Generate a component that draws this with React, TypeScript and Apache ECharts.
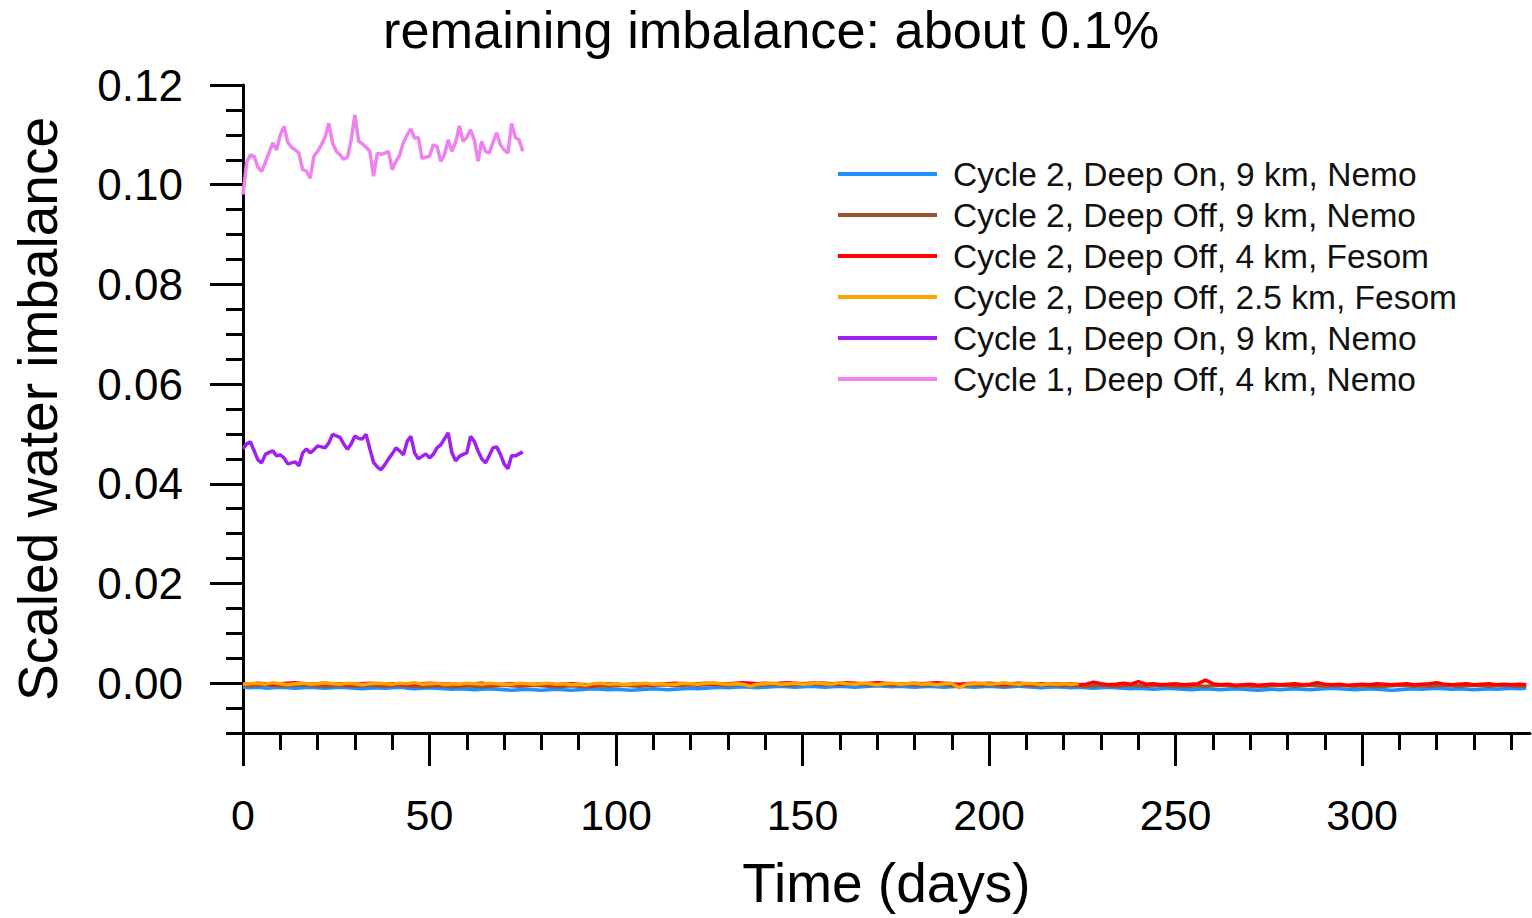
import React, { useEffect, useRef } from "react";
import * as echarts from "echarts";

const FONT = "'Liberation Sans', Arial, Helvetica, sans-serif";

const titleText = "remaining imbalance: about 0.1%";
const xAxisTitle = "Time (days)";
const yAxisTitle = "Scaled water imbalance";

const seriesNames = [
  "Cycle 2, Deep On, 9 km, Nemo",
  "Cycle 2, Deep Off, 9 km, Nemo",
  "Cycle 2, Deep Off, 4 km, Fesom",
  "Cycle 2, Deep Off, 2.5 km, Fesom",
  "Cycle 1, Deep On, 9 km, Nemo",
  "Cycle 1, Deep Off, 4 km, Nemo",
];
const seriesColors = ["#1E90FF", "#A0522D", "#FF0000", "#FFA500", "#A020F0", "#EE82EE"];

const xMajorTicks = [0, 50, 100, 150, 200, 250, 300];
const yMajorTicks = [0, 0.02, 0.04, 0.06, 0.08, 0.1, 0.12];

// Cycle 1 runs: one value per day, days 0..75
const cycle1DayStep = 1;
const cycle1DeepOff4km = [
  0.098, 0.1045, 0.106, 0.1057, 0.1035, 0.1027, 0.1045, 0.1065, 0.1084, 0.107,
  0.11, 0.1117, 0.1085, 0.1075, 0.107, 0.1063, 0.103, 0.1027, 0.1013, 0.1057,
  0.1067, 0.108, 0.1095, 0.1123, 0.1084, 0.1067, 0.106, 0.1051, 0.1055, 0.109,
  0.114, 0.1087, 0.1082, 0.1075, 0.1067, 0.1017, 0.1063, 0.1061, 0.1063, 0.1067,
  0.103, 0.1047, 0.106, 0.1084, 0.11, 0.1112, 0.1093, 0.1095, 0.1053, 0.1055,
  0.1057, 0.108, 0.1077, 0.1047, 0.106, 0.109, 0.1067, 0.1085, 0.1118, 0.1087,
  0.1095, 0.111, 0.109, 0.1047, 0.1087, 0.1067, 0.1063, 0.1085, 0.1104, 0.108,
  0.107, 0.1063, 0.1123, 0.1095, 0.109, 0.1067,
];
const cycle1DeepOn9km = [
  0.047, 0.048, 0.0484, 0.0466, 0.0448, 0.0442, 0.0459, 0.0463, 0.0466, 0.0456,
  0.0458, 0.0452, 0.044, 0.0442, 0.0444, 0.0436, 0.0462, 0.047, 0.0462, 0.0468,
  0.0476, 0.0474, 0.0472, 0.0482, 0.0499, 0.0496, 0.0493, 0.048, 0.0469, 0.048,
  0.0496, 0.0491, 0.049, 0.0499, 0.047, 0.0443, 0.0434, 0.0428, 0.0438, 0.045,
  0.046, 0.0472, 0.0466, 0.0458, 0.0485, 0.0495, 0.0462, 0.045, 0.0455, 0.046,
  0.0452, 0.0459, 0.0472, 0.0478, 0.049, 0.0502, 0.0462, 0.0446, 0.0455, 0.0459,
  0.0462, 0.0495, 0.0485, 0.0466, 0.045, 0.0442, 0.0456, 0.0472, 0.0474, 0.0459,
  0.044, 0.043, 0.0456, 0.0456, 0.046, 0.0464,
];

// Cycle 2 runs: one value every 2 days, in units of 1e-4
const cycle2DayStep = 2;
const cycle2Unit = 1e-4;
const cycle2DeepOn9km = [
  -8, -9, -8, -10, -9, -8, -9, -10, -9, -8,
  -9, -10, -9, -8, -9, -10, -11, -10, -9, -10,
  -9, -8, -10, -11, -10, -9, -10, -11, -12, -11,
  -12, -13, -12, -11, -12, -13, -14, -13, -12, -13,
  -14, -13, -12, -13, -14, -13, -12, -11, -12, -13,
  -12, -13, -14, -13, -12, -11, -12, -13, -12, -11,
  -10, -11, -10, -9, -8, -9, -8, -7, -8, -9,
  -8, -7, -6, -7, -8, -7, -6, -7, -8, -7,
  -6, -7, -8, -7, -6, -5, -6, -7, -6, -7,
  -8, -7, -6, -7, -8, -7, -6, -7, -8, -7,
  -6, -7, -8, -7, -6, -7, -8, -9, -8, -7,
  -8, -9, -8, -9, -10, -9, -8, -9, -10, -11,
  -10, -11, -12, -11, -10, -11, -12, -13, -12, -11,
  -12, -13, -12, -11, -12, -13, -14, -13, -12, -13,
  -12, -11, -12, -13, -12, -11, -10, -11, -12, -13,
  -12, -11, -12, -13, -14, -13, -12, -11, -12, -11,
  -10, -11, -12, -11, -12, -13, -12, -11, -12, -11,
  -10, -11, -10,
];
const cycle2DeepOff9km = [
  -4, -5, -4, -3, -4, -5, -5, -4, -3, -4,
  -5, -6, -5, -4, -5, -6, -5, -4, -5, -6,
  -5, -4, -5, -6, -7, -6, -5, -6, -7, -6,
  -5, -6, -7, -6, -5, -4, -5, -6, -5, -4,
  -5, -6, -7, -6, -5, -6, -7, -6, -5, -6,
  -5, -4, -5, -6, -5, -4, -3, -4, -5, -4,
  -3, -4, -3, -2, -3, -4, -3, -2, -3, -4,
  -3, -2, -3, -4, -3, -2, -1, -2, -3, -2,
  -3, -2, -1, -2, -3, -2, -3, -4, -3, -2,
  -3, -4, -3, -2, -3, -4, -5, -4, -3, -4,
  -3, -4, -5, -4, -3, -4, -5, -4, -3, -4,
  -5, -4, -5, -6, -5, -4, -5, -6, -5, -4,
  -5, -6, -5, -4, -5, -6, -7, -6, -5, -6,
  -5, -4, -5, -6, -5, -6, -7, -6, -5, -4,
  -5, -6, -5, -4, -5, -6, -5, -4, -5, -6,
  -5, -6, -7, -6, -5, -4, -5, -6, -5, -6,
  -5, -4, -5, -6, -5, -4, -5, -6, -5, -4,
  -5, -6, -5,
];
const cycle2DeepOff4km = [
  -1, -2, 0, -1, -2, -1, 0, 1, -1, -2,
  -1, 0, -2, -1, -3, -2, -1, 0, -1, -2,
  -1, -2, -3, -2, -1, 0, -1, -2, -1, -3,
  -2, -1, 0, -2, -3, -2, -1, -2, -3, -2,
  -1, -2, -3, -2, -1, -2, -3, -4, -2, -1,
  -2, -3, -2, -1, -2, -3, -2, -1, 0, -1,
  -2, -1, 0, -1, -2, -1, 0, 1, 0, -1,
  0, -1, 0, 1, 0, -1, 0, 1, 0, -1,
  0, 1, 0, -1, 0, 1, 0, -1, -2, -1,
  0, -1, 0, 1, 0, -1, -2, -1, 0, -1,
  0, -1, -2, -1, 0, -1, -2, -1, -2, -1,
  -2, -1, -3, -2, 2, -1, -3, -2, 0, -2,
  3, -2, -1, -3, -2, -1, -3, -2, -1, 6,
  -1, -3, -2, -4, -3, -2, -4, -3, -2, -3,
  -2, -1, -3, -2, 1, -2, -3, -2, -4, -3,
  -2, -3, -1, -2, -3, -2, -1, -3, -2, -1,
  1, -2, -3, -2, -1, -3, -2, -1, -3, -2,
  -3, -2, -3,
];
const cycle2DeepOff2p5km = [
  -2, -1, 0, -2, 1, -1, -3, -1, 0, -2,
  -1, 1, -1, -2, 0, -1, -3, -1, 0, -1,
  -2, 0, -1, 1, -2, -1, 0, -3, -1, -2,
  0, -1, -2, 0, -1, -3, -2, 0, -1, -2,
  -1, 0, -2, -1, -3, -2, -4, -1, 0, -2,
  -1, -3, -2, -1, 0, -2, -1, -3, -2, 0,
  -1, -2, 0, 1, -1, -2, -1, -2, -6, -2,
  -1, 0, -2, -1, 0, -2, -1, 1, -1, -2,
  1, -1, -2, 0, -1, -3, -1, 0, -2, -1,
  0, -2, -1, -3, -1, 0, -9, -2, -1, 0,
  -2, -1, 1, -1, -2, 0, -1, -3, -1, -2,
  -1, -2, -1,
];

const toPairs = (vals: number[], step: number, unit: number) =>
  vals.map((v, i) => [i * step, +(v * unit).toFixed(6)]);

const seriesValues = [
  toPairs(cycle2DeepOn9km, cycle2DayStep, cycle2Unit),
  toPairs(cycle2DeepOff9km, cycle2DayStep, cycle2Unit),
  toPairs(cycle2DeepOff4km, cycle2DayStep, cycle2Unit),
  toPairs(cycle2DeepOff2p5km, cycle2DayStep, cycle2Unit),
  toPairs(cycle1DeepOn9km, cycle1DayStep, 1),
  toPairs(cycle1DeepOff4km, cycle1DayStep, 1),
];

const X_MIN = 0;
const X_MAX = 345;
const Y_MIN = -0.01;
const Y_MAX = 0.12;

export default function App() {
  const ref = useRef<HTMLDivElement>(null);

  useEffect(() => {
    if (!ref.current) return;
    const chart = echarts.init(ref.current, undefined, { renderer: "svg" });

    const xMinor: number[] = [];
    for (let v = 0; v <= 340; v += 10) xMinor.push(v);
    const yMinor: number[] = [];
    for (let i = 0; i <= 26; i++) yMinor.push(+(Y_MIN + i * 0.005).toFixed(3));

    const axisLine = { show: true, onZero: false, lineStyle: { color: "#000", width: 3 } };

    chart.setOption({
      animation: false,
      backgroundColor: "#fff",
      title: {
        text: titleText,
        left: 383,
        top: 4,
        padding: 0,
        textStyle: { fontFamily: FONT, fontSize: 52.3, fontWeight: "normal", color: "#000" },
      },
      legend: {
        orient: "vertical",
        left: 838,
        top: 157,
        padding: 0,
        itemWidth: 99,
        itemHeight: 4,
        itemGap: 7,
        icon: "rect",
        selectedMode: false,
        data: seriesNames,
        textStyle: {
          fontFamily: FONT,
          fontSize: 33.5,
          lineHeight: 33,
          color: "#111",
          padding: [0, 0, 0, 11],
        },
      },
      grid: { left: 243, top: 85, right: 2, bottom: 185, containLabel: false },
      xAxis: [
        {
          type: "value",
          min: X_MIN,
          max: X_MAX,
          position: "bottom",
          axisLine,
          splitLine: { show: false },
          axisTick: { show: true, customValues: xMinor, length: 17, lineStyle: { color: "#000", width: 3 } },
          axisLabel: {
            show: true,
            customValues: xMajorTicks,
            margin: 60,
            fontFamily: FONT,
            fontSize: 43,
            color: "#000",
            formatter: (v: number) => String(v),
          },
          name: xAxisTitle,
          nameLocation: "middle",
          nameGap: 122,
          nameTextStyle: { fontFamily: FONT, fontSize: 55, color: "#000" },
        },
        {
          type: "value",
          min: X_MIN,
          max: X_MAX,
          position: "bottom",
          offset: 0,
          axisLine: { show: false, onZero: false },
          splitLine: { show: false },
          axisTick: { show: true, customValues: xMajorTicks, length: 33, lineStyle: { color: "#000", width: 3 } },
          axisLabel: { show: false },
        },
      ],
      yAxis: [
        {
          type: "value",
          min: Y_MIN,
          max: Y_MAX,
          position: "left",
          axisLine,
          splitLine: { show: false },
          axisTick: { show: true, customValues: yMinor, length: 17, lineStyle: { color: "#000", width: 3 } },
          axisLabel: {
            show: true,
            customValues: yMajorTicks,
            margin: 60,
            fontFamily: FONT,
            fontSize: 44,
            color: "#000",
            formatter: (v: number) => v.toFixed(2),
          },
          name: yAxisTitle,
          nameLocation: "middle",
          nameGap: 178,
          nameRotate: 90,
          nameTextStyle: { fontFamily: FONT, fontSize: 55, color: "#000" },
        },
        {
          type: "value",
          min: Y_MIN,
          max: Y_MAX,
          position: "left",
          offset: 0,
          axisLine: { show: false, onZero: false },
          splitLine: { show: false },
          axisTick: { show: true, customValues: yMajorTicks, length: 33, lineStyle: { color: "#000", width: 3 } },
          axisLabel: { show: false },
        },
      ],
      series: seriesNames.map((name, i) => ({
        name,
        type: "line",
        xAxisIndex: 0,
        yAxisIndex: 0,
        data: seriesValues[i],
        showSymbol: false,
        symbol: "none",
        color: seriesColors[i],
        lineStyle: { color: seriesColors[i], width: 3.5 },
        z: 2 + i,
      })),
    });

    return () => chart.dispose();
  }, []);

  return (
    <div
      ref={ref}
      style={{ position: "absolute", left: 0, top: 0, width: 1532, height: 918 }}
    />
  );
}
